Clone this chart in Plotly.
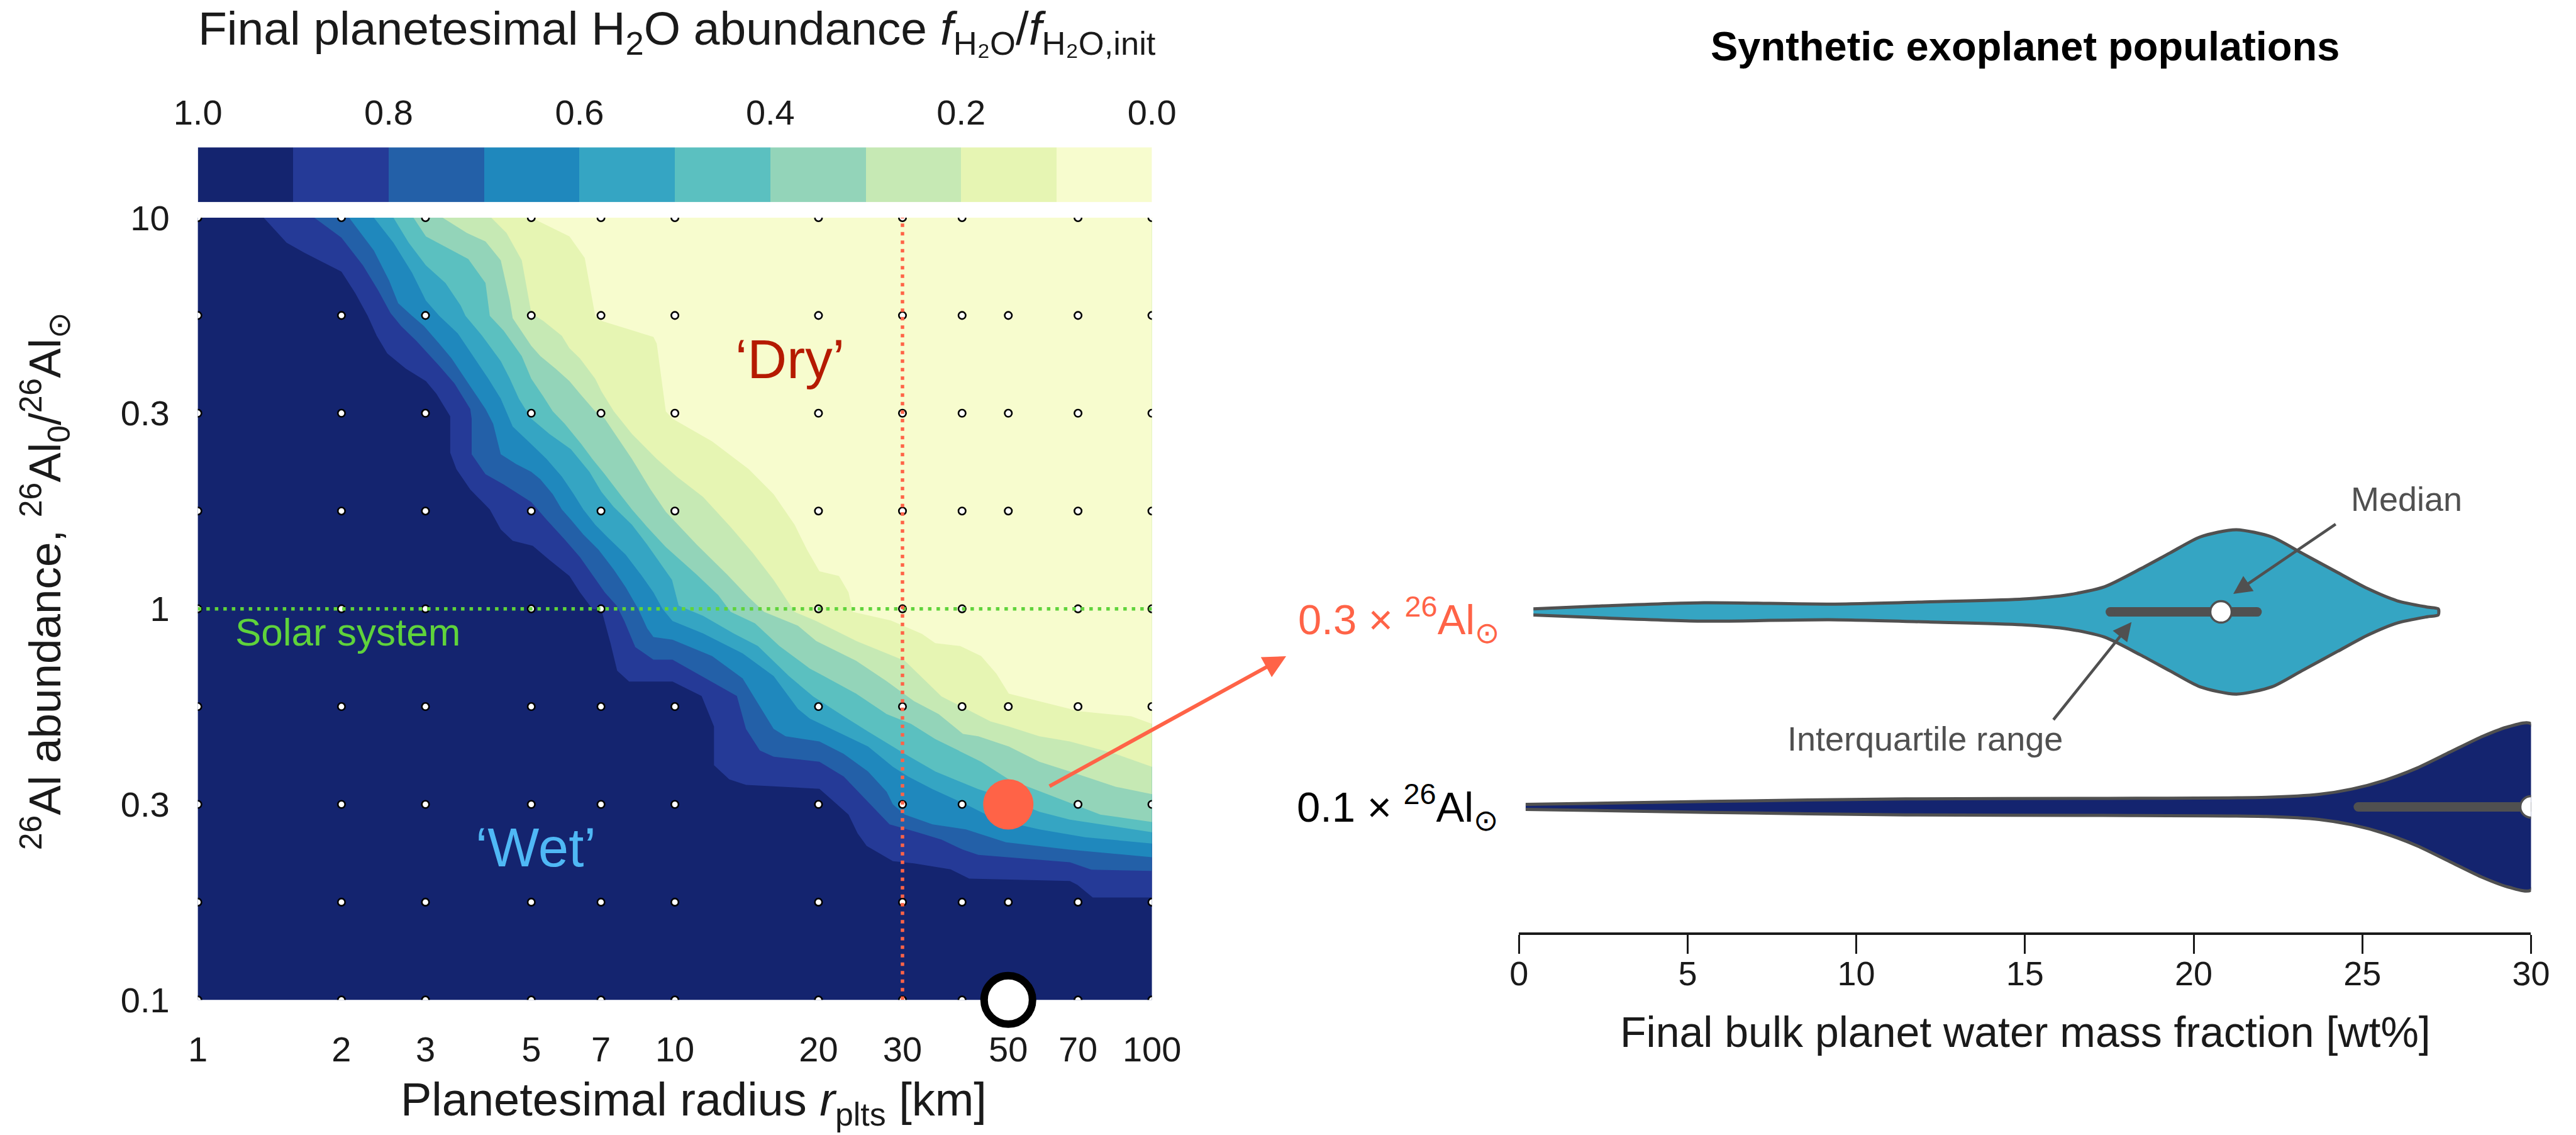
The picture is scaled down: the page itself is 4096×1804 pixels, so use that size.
import numpy as np
import plotly.graph_objects as go

W, H = 4096, 1804
S = 0.847  # reference -> output scale

# ---------------------------------------------------------------- data
RADII_KM = [1, 2, 3, 5, 7, 10, 20, 30, 40, 50, 70, 100]
AL_LOG_STEPS = [-1.0, -0.75, -0.5, -0.25, 0.0, 0.25, 0.5, 0.75, 1.0]  # log10(26Al0/26Al_sun)
MISSING_RUNS = [(50, 1.0), (10, 0.0), (50, 0.0)]

X_TICKS = [1, 2, 3, 5, 7, 10, 20, 30, 50, 70, 100]
Y_TICK_LOG = [-1.0, -0.5, 0.0, 0.5, 1.0]
Y_TICK_TEXT = ["0.1", "0.3", "1", "0.3", "10"]

CBAR_EDGES = [1.0, 0.9, 0.8, 0.7, 0.6, 0.5, 0.4, 0.3, 0.2, 0.1, 0.0]
CBAR_TICKS = [1.0, 0.8, 0.6, 0.4, 0.2, 0.0]
LEVEL_COLORS = ["#14246f", "#253a97", "#2360a8", "#1f88bd", "#35a5c3",
                "#5bc0c0", "#93d4b9", "#c6e9b4", "#e6f5b3", "#f7fcce"]  # f>0.9 ... f<0.1

# contour boundaries (log10 radius, log10 Al) for levels 0.9 ... 0.1
B1_LOGR = [0.138,0.186,0.224,0.301,0.330,0.356,0.375,0.397,0.436,0.478,0.500,0.529,0.529,0.542,0.571,0.612,0.635,0.660,0.702,0.737,0.779,0.801,0.827,0.846,0.865,0.879,0.904,0.995,1.056,1.082,1.082,1.114,1.149,1.303,1.364,1.383,1.402,1.457,1.501,1.578,1.617,1.828,1.844,1.876,2.0]
B1_LOGAL = [1.0,0.936,0.910,0.862,0.807,0.749,0.698,0.653,0.614,0.582,0.550,0.492,0.399,0.357,0.305,0.254,0.203,0.174,0.161,0.125,0.084,0.042,0.0,-0.002,-0.088,-0.158,-0.186,-0.186,-0.223,-0.301,-0.400,-0.436,-0.450,-0.460,-0.526,-0.574,-0.606,-0.645,-0.651,-0.666,-0.690,-0.696,-0.706,-0.738,-0.738]
B2_LOGR = [0.244,0.301,0.346,0.378,0.404,0.426,0.458,0.478,0.506,0.538,0.571,0.574,0.574,0.603,0.641,0.699,0.731,0.769,0.801,0.827,0.853,0.878,0.894,0.917,0.955,0.995,1.130,1.149,1.178,1.207,1.303,1.354,1.405,1.450,1.508,1.559,1.604,1.636,1.828,1.873,2.0]
B2_LOGAL = [1.0,0.949,0.878,0.814,0.756,0.723,0.685,0.659,0.621,0.576,0.511,0.486,0.395,0.344,0.318,0.273,0.228,0.177,0.132,0.087,0.042,0.008,-0.031,-0.098,-0.130,-0.130,-0.223,-0.307,-0.362,-0.378,-0.391,-0.429,-0.494,-0.551,-0.571,-0.590,-0.616,-0.629,-0.648,-0.667,-0.670]
B3_LOGR = [0.317,0.369,0.401,0.420,0.449,0.474,0.506,0.532,0.571,0.603,0.619,0.635,0.667,0.699,0.718,0.744,0.763,0.782,0.808,0.840,0.872,0.897,0.923,0.942,0.955,0.995,1.078,1.142,1.207,1.232,1.303,1.354,1.405,1.444,1.457,1.482,1.540,1.610,1.694,1.828,2.0]
B3_LOGAL = [1.0,0.916,0.839,0.781,0.749,0.723,0.678,0.640,0.569,0.511,0.473,0.395,0.370,0.350,0.331,0.293,0.254,0.228,0.190,0.151,0.100,0.055,0.0,-0.050,-0.072,-0.079,-0.121,-0.178,-0.307,-0.326,-0.339,-0.371,-0.416,-0.468,-0.500,-0.526,-0.551,-0.564,-0.597,-0.616,-0.635]
B4_LOGR = [0.369,0.410,0.449,0.478,0.506,0.545,0.577,0.609,0.635,0.660,0.699,0.731,0.763,0.788,0.808,0.833,0.859,0.897,0.929,0.955,0.974,0.995,1.059,1.142,1.207,1.258,1.283,1.360,1.405,1.457,1.489,1.540,1.610,1.674,1.764,1.860,2.0]
B4_LOGAL = [1.0,0.936,0.859,0.788,0.749,0.704,0.646,0.588,0.537,0.466,0.421,0.383,0.338,0.293,0.254,0.215,0.183,0.138,0.087,0.042,0.0,-0.031,-0.063,-0.114,-0.172,-0.256,-0.281,-0.326,-0.352,-0.404,-0.429,-0.461,-0.500,-0.539,-0.564,-0.584,-0.600]
B5_LOGR = [0.410,0.442,0.478,0.519,0.551,0.561,0.596,0.635,0.654,0.673,0.699,0.737,0.782,0.821,0.846,0.872,0.910,0.942,0.968,0.994,1.008,1.059,1.123,1.174,1.239,1.290,1.354,1.405,1.482,1.546,1.598,1.636,1.687,1.764,1.828,2.0]
B5_LOGAL = [1.0,0.936,0.878,0.833,0.775,0.749,0.698,0.633,0.588,0.537,0.486,0.447,0.408,0.350,0.299,0.260,0.215,0.164,0.119,0.074,0.008,-0.018,-0.063,-0.095,-0.172,-0.224,-0.275,-0.314,-0.371,-0.416,-0.442,-0.461,-0.481,-0.519,-0.539,-0.571]
B6_LOGR = [0.452,0.478,0.567,0.603,0.612,0.641,0.679,0.699,0.724,0.744,0.769,0.804,0.827,0.853,0.885,0.910,0.942,0.981,1.046,1.091,1.117,1.168,1.219,1.283,1.303,1.380,1.444,1.495,1.546,1.598,1.642,1.700,1.796,1.892,2.0]
B6_LOGAL = [1.0,0.952,0.894,0.833,0.749,0.711,0.646,0.588,0.543,0.505,0.473,0.421,0.383,0.344,0.293,0.254,0.209,0.158,0.087,0.035,-0.008,-0.037,-0.095,-0.153,-0.166,-0.217,-0.269,-0.294,-0.333,-0.365,-0.391,-0.436,-0.481,-0.526,-0.545]
B7_LOGR = [0.513,0.564,0.603,0.635,0.654,0.660,0.699,0.718,0.750,0.779,0.801,0.833,0.853,0.878,0.910,0.949,0.981,1.046,1.110,1.155,1.187,1.258,1.296,1.380,1.444,1.501,1.553,1.604,1.636,1.700,1.764,1.828,1.924,2.0]
B7_LOGAL = [1.0,0.961,0.939,0.891,0.788,0.743,0.672,0.646,0.614,0.582,0.550,0.505,0.486,0.441,0.383,0.305,0.248,0.164,0.087,0.029,-0.008,-0.043,-0.082,-0.133,-0.185,-0.236,-0.269,-0.320,-0.326,-0.352,-0.391,-0.416,-0.455,-0.474]
B8_LOGR = [0.615,0.647,0.679,0.699,0.724,0.763,0.779,0.801,0.833,0.846,0.872,0.910,0.962,1.005,1.059,1.117,1.162,1.207,1.251,1.296,1.380,1.482,1.559,1.662,1.700,1.764,1.828,1.924,2.0]
B8_LOGAL = [1.0,0.961,0.891,0.756,0.736,0.698,0.666,0.640,0.588,0.556,0.505,0.447,0.383,0.337,0.286,0.209,0.145,0.074,-0.008,-0.031,-0.082,-0.133,-0.224,-0.288,-0.301,-0.326,-0.339,-0.371,-0.404]
B9_LOGR = [0.699,0.779,0.811,0.833,0.846,0.955,0.962,0.981,0.995,1.078,1.155,1.207,1.251,1.277,1.303,1.344,1.364,1.373,1.453,1.518,1.546,1.598,1.642,1.674,1.700,1.764,1.848,1.957,2.0]
B9_LOGAL = [1.0,0.952,0.897,0.749,0.736,0.695,0.678,0.505,0.486,0.428,0.357,0.293,0.215,0.151,0.096,0.084,0.042,-0.008,-0.030,-0.064,-0.088,-0.095,-0.121,-0.166,-0.217,-0.236,-0.262,-0.275,-0.294]

SOLAR_AL = 1.0
HIGHLIGHT_R = 30
SELECTED_RUN = (50, 10 ** -0.5)
SOLAR_MARK = (50, 0.1)

# violin profiles (wt%, relative density)
V03_WT = [0.43, 2.47, 5.48, 9.2, 12.2, 14.9, 16.3, 17.36, 18.42, 19.3, 20.19, 21.25, 22.32, 23.2, 24.27, 25.15, 26.04, 26.93, 27.25]
V03_DENS = [0.037, 0.072, 0.111, 0.094, 0.122, 0.154, 0.207, 0.303, 0.517, 0.71, 0.902, 0.99, 0.902, 0.71, 0.474, 0.282, 0.133, 0.058, 0.037]
V03_IQR = [17.53, 21.88]
V03_MEDIAN = 20.81
V01_WT = [0.2, 5.64, 11.47, 17.3, 22.16, 23.72, 24.69, 25.66, 26.63, 27.6, 28.58, 29.35, 30.0]
V01_DENS = [0.03, 0.066, 0.097, 0.102, 0.115, 0.151, 0.215, 0.32, 0.469, 0.66, 0.852, 0.968, 1.0]
V01_IQR = [24.88, 30.0]
V01_MEDIAN = 30.0
X2_TICKS = [0, 5, 10, 15, 20, 25, 30]
POP_LABELS = ["0.1 × <sup>26</sup>Al<sub>⊙</sub>", "0.3 × <sup>26</sup>Al<sub>⊙</sub>"]

# ---------------------------------------------------------------- styles
FONT = "Liberation Sans"
TXT = "#1a1a1a"
GRAY = "#505050"
TOMATO = "#ff6347"
GREEN = "#5fd33b"


def px_x(p):
    return p / W


def px_y(p):
    return 1 - p / H


fig = go.Figure()

# base (f > 0.9) and contour bands
fig.add_trace(go.Scatter(x=[0.5, 200, 200, 0.5], y=[0.05, 0.05, 20, 20], fill="toself",
                         fillcolor=LEVEL_COLORS[0], line=dict(width=0), mode="lines",
                         hoverinfo="skip", xaxis="x", yaxis="y"))
BOUNDS = [(B1_LOGR, B1_LOGAL), (B2_LOGR, B2_LOGAL), (B3_LOGR, B3_LOGAL), (B4_LOGR, B4_LOGAL),
          (B5_LOGR, B5_LOGAL), (B6_LOGR, B6_LOGAL), (B7_LOGR, B7_LOGAL), (B8_LOGR, B8_LOGAL),
          (B9_LOGR, B9_LOGAL)]
for k, (lr, la) in enumerate(BOUNDS, start=1):
    u = list(lr) + [2.1, 2.1, lr[0]]
    v = list(la) + [la[-1], 1.1, 1.1]
    fig.add_trace(go.Scatter(x=10 ** np.array(u), y=10 ** np.array(v), fill="toself",
                             fillcolor=LEVEL_COLORS[k], line=dict(width=0), mode="lines",
                             hoverinfo="skip", xaxis="x", yaxis="y"))

# simulation grid points
dx, dy = [], []
for lv in AL_LOG_STEPS:
    for r in RADII_KM:
        if (r, lv) in MISSING_RUNS:
            continue
        dx.append(r)
        dy.append(10 ** lv)
fig.add_trace(go.Scatter(x=dx, y=dy, mode="markers", xaxis="x", yaxis="y", hoverinfo="skip",
                         marker=dict(size=11.5, color="white", line=dict(color="black", width=2.6))))

# reference lines
fig.add_trace(go.Scatter(x=[1, 100], y=[SOLAR_AL, SOLAR_AL], mode="lines", xaxis="x", yaxis="y",
                         line=dict(color=GREEN, width=5.5, dash="5.5px,8px"), hoverinfo="skip"))
fig.add_trace(go.Scatter(x=[HIGHLIGHT_R, HIGHLIGHT_R], y=[0.1, 10], mode="lines", xaxis="x", yaxis="y",
                         line=dict(color=TOMATO, width=5.5, dash="5.5px,8px"), hoverinfo="skip"))

# highlighted runs
fig.add_trace(go.Scatter(x=[SELECTED_RUN[0]], y=[SELECTED_RUN[1]], mode="markers", xaxis="x", yaxis="y",
                         marker=dict(size=80, color=TOMATO, line=dict(width=0)), hoverinfo="skip"))
fig.add_trace(go.Scatter(x=[SOLAR_MARK[0]], y=[SOLAR_MARK[1]], mode="markers", xaxis="x", yaxis="y",
                         cliponaxis=False, hoverinfo="skip",
                         marker=dict(size=77, color="white", line=dict(color="black", width=12))))

# colorbar strip
cb_z = [[(CBAR_EDGES[i] + CBAR_EDGES[i + 1]) / 2 for i in range(len(CBAR_EDGES) - 1)]]
cs = []
for i in range(10):
    c = LEVEL_COLORS[9 - i]
    cs.append([i / 10, c])
    cs.append([(i + 1) / 10, c])
fig.add_trace(go.Heatmap(x=CBAR_EDGES, y=[0, 1], z=cb_z, colorscale=cs, zmin=0, zmax=1,
                         showscale=False, xaxis="x3", yaxis="y3", hoverinfo="skip"))

# violins
HALF = 0.426
BAR_W = 15


def add_violin(wt, dens, pos, color, iqr, med):
    hw = np.array(dens) * HALF
    xs = list(wt) + list(wt[::-1])
    ys = list(pos + hw) + list((pos - hw)[::-1])
    fig.add_trace(go.Scatter(x=xs, y=ys, fill="toself", fillcolor=color, mode="lines",
                             line=dict(color=GRAY, width=5, shape="spline", smoothing=0.7),
                             xaxis="x2", yaxis="y2", hoverinfo="skip"))
    fig.add_trace(go.Scatter(x=iqr, y=[pos, pos], mode="lines+markers",
                             line=dict(color=GRAY, width=BAR_W),
                             marker=dict(size=BAR_W, color=GRAY, line=dict(width=0)),
                             xaxis="x2", yaxis="y2", hoverinfo="skip"))
    fig.add_trace(go.Scatter(x=[med], y=[pos], mode="markers", xaxis="x2", yaxis="y2",
                             hoverinfo="skip",
                             marker=dict(size=34, color="white", line=dict(color=GRAY, width=3.5))))


add_violin(V03_WT, V03_DENS, 1.0, LEVEL_COLORS[4], V03_IQR, V03_MEDIAN)
add_violin(V01_WT, V01_DENS, 0.0, LEVEL_COLORS[0], V01_IQR, V01_MEDIAN)

# ---------------------------------------------------------------- layout
left_dom = [px_x(362 * S), px_x(2153 * S)]
axis_font = dict(family=FONT, size=56, color=TXT)

fig.update_layout(
    width=W, height=H, margin=dict(l=0, r=0, t=0, b=0, pad=0, autoexpand=False),
    paper_bgcolor="white", plot_bgcolor="white", showlegend=False,
    font=dict(family=FONT, color=TXT),
    xaxis=dict(domain=left_dom, type="log", range=[0, 2], anchor="y", automargin=False,
               tickvals=X_TICKS, ticktext=[str(t) for t in X_TICKS], ticks="",
               showgrid=False, zeroline=False, showline=False, tickfont=axis_font,
               ticklabelstandoff=41),
    yaxis=dict(domain=[px_y(1867 * S), px_y(399 * S)], type="log", range=[-1, 1], anchor="x",
               automargin=False,
               tickvals=[10 ** t for t in Y_TICK_LOG], ticktext=Y_TICK_TEXT, ticks="",
               showgrid=False, zeroline=False, showline=False, tickfont=axis_font,
               ticklabelstandoff=44),
    xaxis3=dict(domain=left_dom, range=[1.0, 0.0], anchor="y3", side="top", automargin=False,
                tickvals=CBAR_TICKS, ticktext=[f"{t:.1f}" for t in CBAR_TICKS], ticks="",
                showgrid=False, zeroline=False, showline=False, tickfont=axis_font,
                ticklabelstandoff=24),
    yaxis3=dict(domain=[px_y(370 * S), px_y(267 * S)], range=[0, 1], anchor="x3", automargin=False,
                showticklabels=False, ticks="", showgrid=False, zeroline=False, showline=False),
    xaxis2=dict(domain=[px_x(2842 * S), px_x(4742 * S)], range=[0, 30], anchor="y2", automargin=False,
                tickvals=X2_TICKS, ticks="outside", ticklen=30, tickwidth=3.4, tickcolor="#1a1a1a",
                showline=True, linewidth=3.6, linecolor="#1a1a1a", showgrid=False, zeroline=False,
                tickfont=dict(family=FONT, size=54, color=TXT), ticklabelstandoff=-14),
    yaxis2=dict(domain=[px_y(1740 * S), px_y(399 * S)], range=[-0.643, 3.022], anchor="x2",
                automargin=False, tickvals=[0], ticktext=[POP_LABELS[0]],
                ticks="", showgrid=False, zeroline=False, showline=False,
                tickfont=dict(family=FONT, size=67, color="black"), ticklabelstandoff=32),
)

ann = []


def text(x, y, s, size, color=TXT, xanchor="center", angle=0, bold=False):
    # y is the reference cap-centre (reference px); plotly centres the text box slightly lower
    yy = y * S - 0.14 * size
    ann.append(dict(x=px_x(x * S), y=px_y(yy), xref="paper", yref="paper",
                    text=f"<b>{s}</b>" if bold else s, showarrow=False,
                    xanchor=xanchor, yanchor="middle", textangle=angle,
                    font=dict(family=FONT, size=size, color=color)))


text(1262, 62,
     "Final planetesimal H<sub>2</sub>O abundance <i>f</i><sub>H₂O</sub>/<i>f</i><sub>H₂O,init</sub>",
     75)
text(1293, 2072, "Planetesimal radius <i>r</i><sub>plts</sub> [km]", 74)
ann.append(dict(x=px_x(75 * S), y=px_y(1081 * S), xref="paper", yref="paper",
                text="<sup>26</sup>Al abundance, <sup>26</sup>Al<sub>0</sub>/<sup>26</sup>Al<sub>⊙</sub>",
                showarrow=False, xanchor="center", yanchor="middle", textangle=-90,
                font=dict(family=FONT, size=71, color=TXT)))
text(430, 1187, "Solar system", 62, color=GREEN, xanchor="left")
text(1474, 678, "‘Dry’", 87, color="#b51a00")
text(997, 1595, "‘Wet’", 87, color="#4fb8f5")
text(3792, 88, "Synthetic exoplanet populations", 65, color="black", bold=True)
text(3793, 1938, "Final bulk planet water mass fraction [wt%]", 68)
text(4508, 936, "Median", 54, color=GRAY)
text(3605, 1386, "Interquartile range", 54, color=GRAY)
text(2807, 1164, POP_LABELS[1], 67, color=TOMATO, xanchor="right")


def arrow(head, tail, color, width, size):
    ann.append(dict(x=px_x(head[0] * S), y=px_y(head[1] * S), xref="paper", yref="paper",
                    ax=(tail[0] - head[0]) * S, ay=(tail[1] - head[1]) * S,
                    axref="pixel", ayref="pixel", text="", showarrow=True,
                    arrowhead=2, arrowsize=size, arrowwidth=width, arrowcolor=color))


arrow((4183, 1105), (4377, 973), GRAY, 4.5, 1.3)
arrow((3992, 1158), (3844, 1343), GRAY, 4.5, 1.3)
arrow((2405, 1222), (1959, 1467), TOMATO, 6, 1.2)

fig.update_layout(annotations=ann)
fig.write_html("out.html")
